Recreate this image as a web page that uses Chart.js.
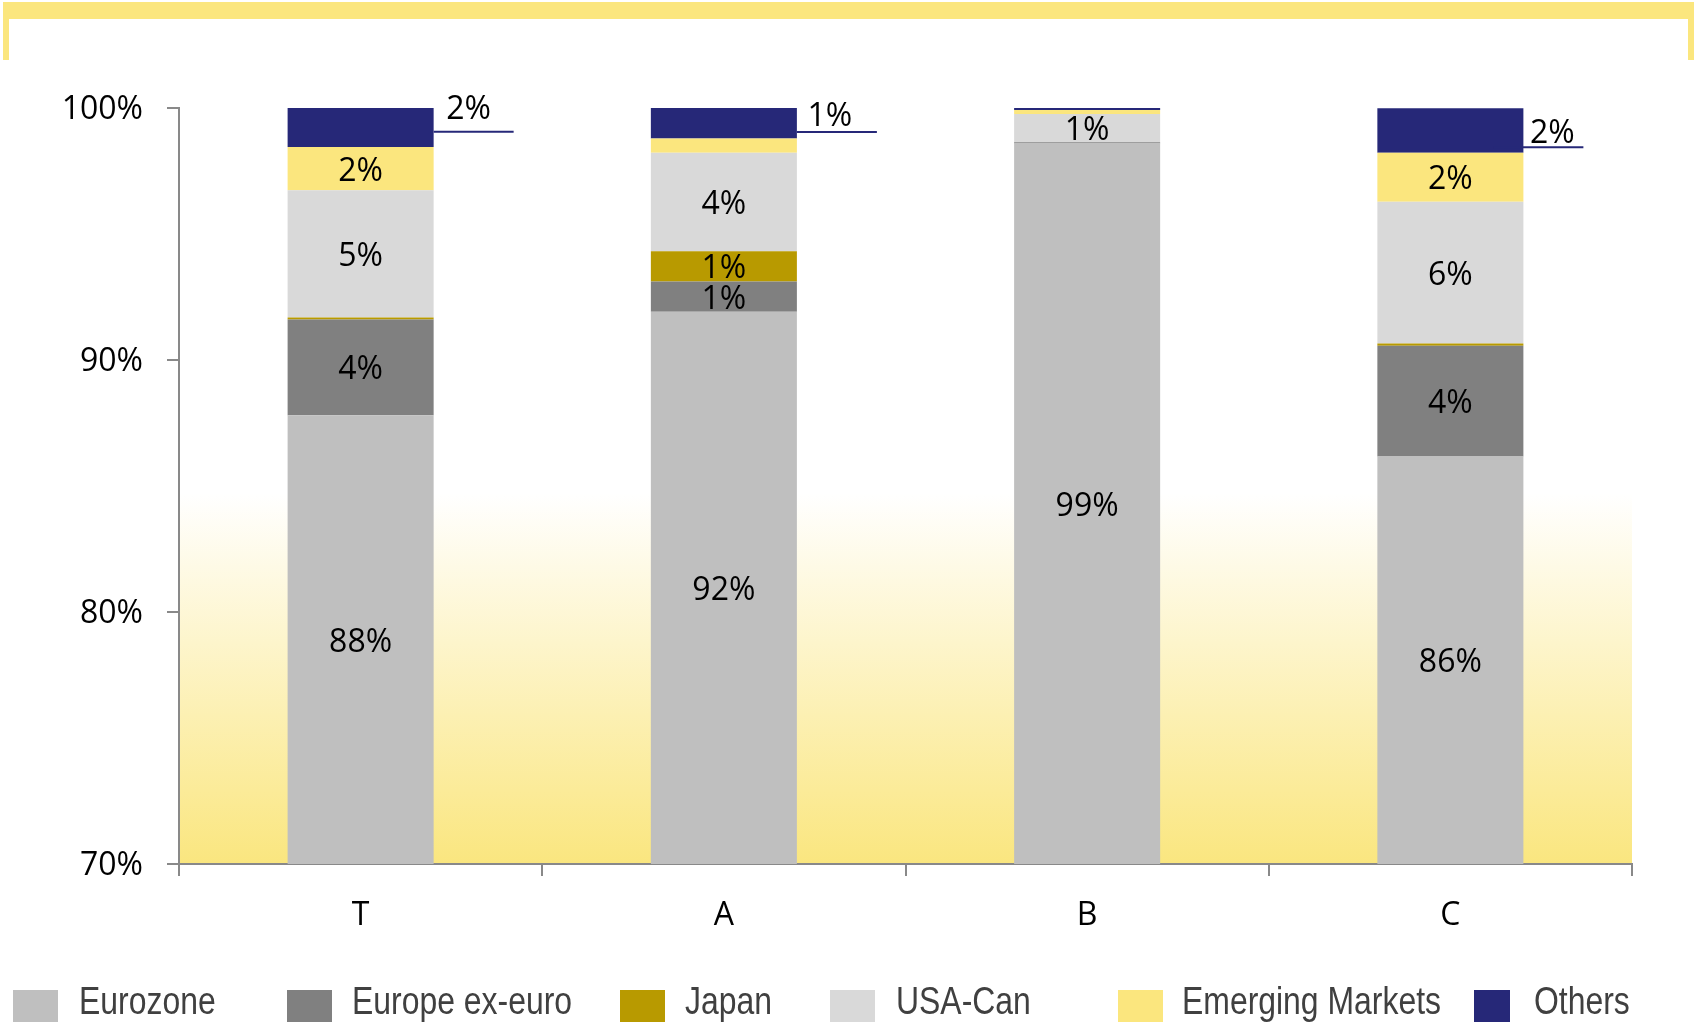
<!DOCTYPE html>
<html>
<head>
<meta charset="utf-8">
<script src="https://cdn.jsdelivr.net/npm/chart.js@4"></script>
<style>
  html, body { margin: 0; padding: 0; background: #ffffff; }
  #wrap { width: 1694px; height: 1022px; position: relative; overflow: hidden; }
  canvas { display: block; }
</style>
</head>
<body>
<div id="wrap"><canvas id="c" width="1694" height="1022"></canvas></div>
<script>
// ---- data ----
const categories = ['T', 'A', 'B', 'C'];
const eurozone        = [87.81, 91.91, 98.59, 86.17];
const europeExEuro    = [3.80, 1.21, 0.05, 4.40];
const japan           = [0.08, 1.20, 0.00, 0.08];
const usaCan          = [5.05, 3.90, 1.12, 5.63];
const emergingMarkets = [1.71, 0.57, 0.16, 1.94];
const others          = [1.56, 1.21, 0.08, 1.77];
const seriesNames = ['Eurozone', 'Europe ex-euro', 'Japan', 'USA-Can', 'Emerging Markets', 'Others'];
const yTickValues = [70, 80, 90, 100];

const seriesColors = ['#BFBFBF', '#808080', '#B89A00', '#D9D9D9', '#FBE67E', '#262878'];
const seriesValues = [eurozone, europeExEuro, japan, usaCan, emergingMarkets, others];

const labelFont = '32px "Open Sans", "Noto Sans", sans-serif';
const legendFont = '38px "Liberation Sans", Arial, sans-serif';

const backgroundPlugin = {
  id: 'bg',
  beforeDraw(chart) {
    const ctx = chart.ctx;
    const a = chart.chartArea;
    ctx.save();
    ctx.fillStyle = '#ffffff';
    ctx.fillRect(0, 0, chart.width, chart.height);
    // top yellow frame
    ctx.fillStyle = '#FBE67E';
    ctx.fillRect(3, 2, chart.width - 3, 17);
    ctx.fillRect(3, 2, 6, 58);
    ctx.fillRect(chart.width - 6, 2, 6, 58);
    // plot gradient
    const g = ctx.createLinearGradient(0, a.top, 0, a.bottom);
    g.addColorStop(0, '#ffffff');
    g.addColorStop(0.51, '#ffffff');
    g.addColorStop(1, '#FAE67F');
    ctx.fillStyle = g;
    ctx.fillRect(a.left, a.top, a.right - a.left, a.bottom - a.top);
    ctx.restore();
  }
};

const labelsPlugin = {
  id: 'segLabels',
  afterDatasetsDraw(chart) {
    const ctx = chart.ctx;
    ctx.save();
    ctx.font = labelFont;
    ctx.fillStyle = '#000000';
    ctx.textAlign = 'center';
    ctx.textBaseline = 'middle';
    const last = chart.data.datasets.length - 1;
    // offsets for the outside "Others" labels, relative to the bar top
    const outside = { 0: {t: 2, l: 24, len: 80, tx: 35}, 1: {t: 9, l: 24, len: 80, tx: 33}, 3: {t: 26, l: 39, len: 60, tx: 29} };
    chart.data.datasets.forEach((ds, di) => {
      const meta = chart.getDatasetMeta(di);
      meta.data.forEach((bar, i) => {
        const v = ds.data[i];
        if (v < 1) return;
        const txt = Math.round(v) + '%';
        const p = bar.getProps(['x', 'y', 'base', 'width'], true);
        if (di === last) {
          const o = outside[i];
          if (!o) return;
          const right = p.x + p.width / 2;
          ctx.strokeStyle = '#262878';
          ctx.lineWidth = 2;
          ctx.beginPath();
          ctx.moveTo(right - (i === 3 ? 30 : 0), p.y + o.l);
          ctx.lineTo(right + o.len, p.y + o.l);
          ctx.stroke();
          ctx.fillText(txt, right + o.tx, p.y + o.t);
        } else {
          ctx.fillText(txt, p.x, (p.y + Math.min(p.base, chart.chartArea.bottom)) / 2 + 3);
        }
      });
    });
    ctx.restore();
  }
};

const legendPlugin = {
  id: 'customLegend',
  afterDraw(chart) {
    const ctx = chart.ctx;
    const boxX = [13, 287, 620, 830, 1118, 1474];
    const boxW = [45, 45, 45, 45, 45, 36];
    const textX = [79, 352, 685, 896, 1182, 1534];
    const squeeze = 0.84;
    ctx.save();
    ctx.font = legendFont;
    ctx.textBaseline = 'alphabetic';
    ctx.textAlign = 'left';
    chart.data.datasets.forEach((ds, i) => {
      ctx.fillStyle = ds.backgroundColor;
      ctx.fillRect(boxX[i], 990, boxW[i], 45);
      ctx.save();
      ctx.translate(textX[i], 1014);
      ctx.scale(squeeze, 1);
      ctx.fillStyle = '#404040';
      ctx.fillText(ds.label, 0, 0);
      ctx.restore();
    });
    ctx.restore();
  }
};

const datasets = seriesNames.map((name, i) => ({
  label: name,
  data: seriesValues[i],
  backgroundColor: seriesColors[i],
  borderWidth: 0,
  categoryPercentage: 1.0,
  barPercentage: 0.402
}));

new Chart(document.getElementById('c'), {
  type: 'bar',
  data: { labels: categories, datasets: datasets },
  options: {
    responsive: false,
    animation: false,
    devicePixelRatio: 1,
    layout: { padding: { left: 0, right: 62, top: 108, bottom: 78 } },
    plugins: { legend: { display: false }, tooltip: { enabled: false } },
    scales: {
      x: {
        stacked: true,
        offset: true,
        grid: { drawOnChartArea: false, drawTicks: true, tickLength: 12, color: '#898989', lineWidth: 2, offset: true },
        border: { color: '#898989', width: 2 },
        ticks: { color: '#000000', font: { family: '"Open Sans", "Noto Sans", sans-serif', size: 32 }, padding: 21 },
        afterFit(scale) { scale.height = 80; }
      },
      y: {
        stacked: true,
        min: 70,
        max: 100,
        afterBuildTicks(scale) { scale.ticks = yTickValues.map(v => ({ value: v })); },
        grid: { drawOnChartArea: false, drawTicks: true, tickLength: 12, color: '#898989', lineWidth: 2 },
        border: { color: '#898989', width: 2 },
        ticks: { color: '#000000', font: { family: '"Open Sans", "Noto Sans", sans-serif', size: 32 }, padding: 24, labelOffset: 2, callback: v => v + '%' },
        afterFit(scale) { scale.width = 179; }
      }
    }
  },
  plugins: [backgroundPlugin, labelsPlugin, legendPlugin]
});
</script>
</body>
</html>
